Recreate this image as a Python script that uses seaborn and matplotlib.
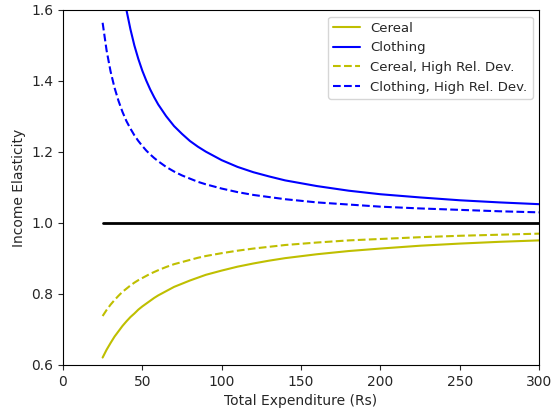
import numpy as np
import pandas as pd
import matplotlib
matplotlib.use("Agg")
import matplotlib.pyplot as plt
import seaborn as sns

# expenditure grid (Rs) and elasticities
expenditure = [25, 27.5, 30, 32.5, 35, 37.5, 40, 42.5, 45, 47.5, 50, 52.5, 55, 57.5,
               60, 65, 70, 75, 80, 85, 90, 100, 110, 120, 130, 140, 160, 180, 200,
               225, 250, 275, 300]
cereal = [0.621, 0.643, 0.662, 0.680, 0.695, 0.710, 0.723, 0.735, 0.745, 0.756,
          0.765, 0.773, 0.781, 0.789, 0.796, 0.808, 0.820, 0.829, 0.838, 0.846,
          0.854, 0.866, 0.877, 0.886, 0.894, 0.901, 0.912, 0.921, 0.928, 0.936,
          0.942, 0.947, 0.951]
clothing = [2.491, 2.195, 1.997, 1.856, 1.749, 1.666, 1.600, 1.546, 1.500, 1.462,
            1.429, 1.401, 1.376, 1.354, 1.334, 1.301, 1.273, 1.251, 1.231, 1.215,
            1.201, 1.177, 1.158, 1.143, 1.131, 1.120, 1.104, 1.091, 1.081, 1.072,
            1.064, 1.058, 1.053]
cereal_hrd = [0.738, 0.755, 0.770, 0.783, 0.795, 0.806, 0.815, 0.824, 0.832, 0.839,
              0.845, 0.851, 0.857, 0.862, 0.867, 0.876, 0.884, 0.890, 0.896, 0.902,
              0.907, 0.915, 0.922, 0.928, 0.933, 0.938, 0.945, 0.951, 0.955, 0.960,
              0.964, 0.967, 0.970]
clothing_hrd = [1.564, 1.486, 1.427, 1.381, 1.344, 1.313, 1.287, 1.266, 1.247, 1.231,
                1.217, 1.204, 1.193, 1.183, 1.174, 1.158, 1.145, 1.134, 1.125, 1.116,
                1.109, 1.097, 1.087, 1.079, 1.073, 1.067, 1.058, 1.052, 1.046, 1.041,
                1.037, 1.033, 1.030]
unit = [1.0] * len(expenditure)

sns.set_style("ticks")
plt.rcParams['font.family'] = ['DejaVu Sans']

fig = plt.figure(figsize=(5.57, 4.08), dpi=100)
ax = fig.add_axes([0.113, 0.1054, 0.855, 0.8701])

sns.lineplot(x=expenditure, y=cereal, color='y', lw=1.5, label='Cereal', ax=ax)
sns.lineplot(x=expenditure, y=clothing, color='b', lw=1.5, label='Clothing', ax=ax)
sns.lineplot(x=expenditure, y=cereal_hrd, color='y', lw=1.5, linestyle='--',
             label='Cereal, High Rel. Dev.', ax=ax)
sns.lineplot(x=expenditure, y=clothing_hrd, color='b', lw=1.5, linestyle='--',
             label='Clothing, High Rel. Dev.', ax=ax)
sns.lineplot(x=expenditure, y=unit, color='k', lw=2, ax=ax)

ax.set_xlim(0, 300)
ax.set_ylim(0.6, 1.6)
ax.set_xlabel('Total Expenditure (Rs)')
ax.set_ylabel('Income Elasticity')
ax.legend(loc='upper right', fontsize=9.5)
for s in ax.spines.values():
    s.set_visible(True)
    s.set_color('black')

fig.savefig('out.png', dpi=100)
